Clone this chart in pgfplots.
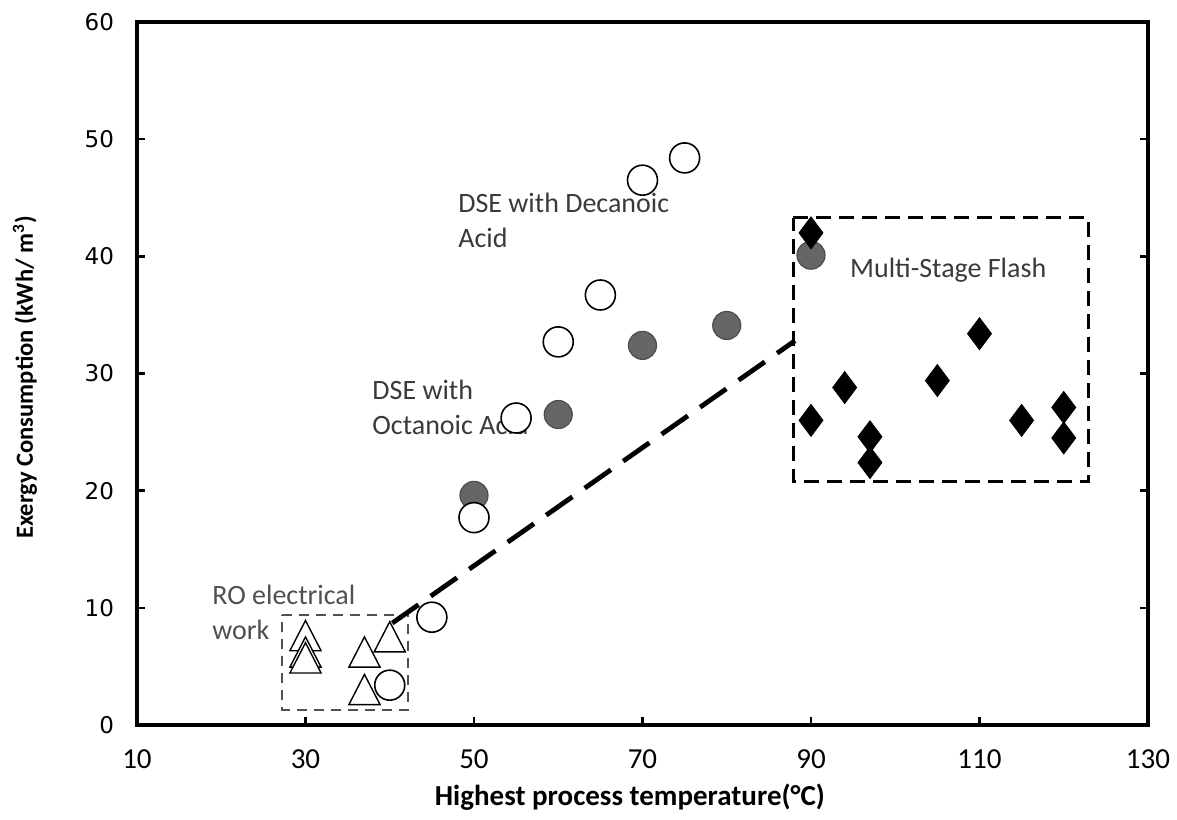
\documentclass[border=0pt]{standalone}
\usepackage{pgfplots}
\pgfplotsset{compat=1.18}
\usepackage{fontspec}
\setmainfont{Carlito}
\newfontfamily\ytickfont{DejaVu Sans}
\definecolor{annot}{HTML}{3A3A3A}
\definecolor{rogray}{HTML}{505050}
\definecolor{fillgray}{HTML}{666666}
\begin{document}
\begin{tikzpicture}
\begin{axis}[
  scale only axis,
  width=505.5pt, height=351.5pt,
  xmin=10, xmax=130, ymin=0, ymax=60,
  xtick={10,30,50,70,90,110,130},
  ytick={0,10,20,30,40,50,60},
  xtick pos=bottom, ytick pos=both,
  tick align=inside,
  major tick length=4pt,
  tick style={line width=1.2pt, black},
  axis line style={line width=1.6pt, black},
  /pgf/number format/assume math mode=true,
  xticklabel style={font=\fontsize{14.5}{16}\selectfont, yshift=-9pt},
  yticklabel style={font=\ytickfont\fontsize{11.5}{13}\selectfont, xshift=-8pt},
  xlabel={\bfseries Highest process temperature(°C)},
  ylabel={\bfseries Exergy Consumption (kWh/ m\textsuperscript{3})},
  xlabel style={font=\fontsize{14.5}{16}\selectfont, at={(axis description cs:0.4876,-0.1024)}, anchor=center},
  ylabel style={font=\fontsize{12.3}{14}\selectfont, at={(axis description cs:-0.1108,0.4943)}, anchor=center},
  clip=false,
]
% RO dashed box
\addplot[rogray, line width=1.1pt, dash pattern=on 5pt off 3.5pt, mark=none]
  coordinates {(27.2,9.4) (42.2,9.4) (42.2,1.3) (27.2,1.3) (27.2,9.4)};
% MSF dashed box
\addplot[black, line width=1.5pt, dash pattern=on 7.5pt off 4pt, mark=none]
  coordinates {(87.9,43.3) (122.9,43.3) (122.9,20.8) (87.9,20.8) (87.9,43.3)};
% trend line
\addplot[black, line width=2.4pt, dash pattern=on 16pt off 7.5pt, mark=none]
  coordinates {(40.3,8.7) (88.1,32.8)};
% RO triangles
\addplot[only marks, mark=triangle*, mark size=9pt, mark options={fill=white, draw=black, line width=0.7pt, yscale=1.12}]
  coordinates {(30,7.2) (30,5.8) (30,5.3) (37,5.8) (37,2.6) (40,7.1)};
% Octanoic (filled gray circles)
\addplot[only marks, mark=*, mark size=7pt, mark options={fill=fillgray, draw=black!70, line width=0.6pt}]
  coordinates {(50,19.6) (60,26.5) (70,32.4) (80,34.1) (90,40.1)};
% Decanoic (open circles)
\addplot[only marks, mark=*, mark size=7.5pt, mark options={fill=white, draw=black, line width=0.8pt}]
  coordinates {(40,3.4) (45,9.2) (50,17.7) (55,26.2) (60,32.7) (65,36.7) (70,46.5) (75,48.4)};
% MSF diamonds
\addplot[only marks, mark=diamond*, mark size=8pt, mark options={fill=black, draw=black, line width=0.4pt}]
  coordinates {(90,42.0) (90,26.0) (94,28.8) (97,24.6) (97,22.4) (105,29.4) (110,33.4) (115,26.0) (120,27.1) (120,24.5)};
% annotations
\node[anchor=west, align=left, text=annot, font=\fontsize{14}{17.5}\selectfont, inner sep=0pt] at (axis cs:48.1,43.1) {DSE with Decanoic\\Acid};
\node[anchor=west, align=left, text=annot, font=\fontsize{14}{17.5}\selectfont, inner sep=0pt] at (axis cs:37.9,27.1) {DSE with\\Octanoic Acid};
\node[anchor=west, align=left, text=annot, font=\fontsize{14}{17.5}\selectfont, inner sep=0pt] at (axis cs:94.6,38.8) {Multi-Stage Flash};
\node[anchor=west, align=left, text=rogray, font=\fontsize{14}{17.5}\selectfont, inner sep=0pt] at (axis cs:18.9,9.6) {RO electrical\\work};
\path (rel axis cs:-0.1355,-0.1351) rectangle (rel axis cs:1.0287,1.0313);
\end{axis}
\end{tikzpicture}
\end{document}
